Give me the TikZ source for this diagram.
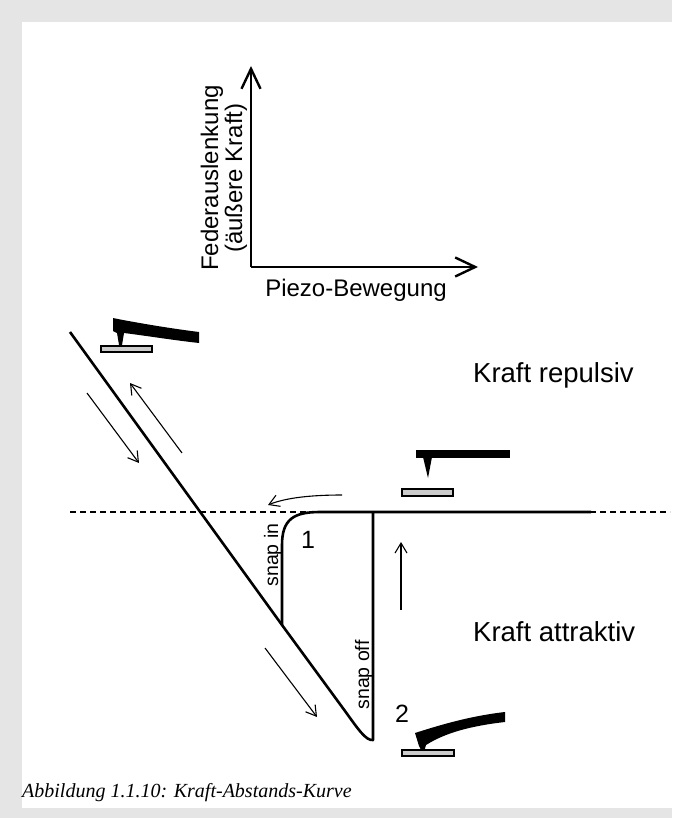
\documentclass[tikz,border=0pt]{standalone}
\usepackage{fontspec}
\setmainfont{Liberation Serif}
\newfontfamily\arial{Liberation Sans}
\usetikzlibrary{arrows.meta}

\begin{document}
\begin{tikzpicture}[x=1pt,y=-1pt,
  lbl/.style={font=\arial\fontsize{24}{24}\selectfont, inner sep=0pt},
  side/.style={font=\arial\fontsize{27.5}{28}\selectfont, inner sep=0pt, anchor=base west},
  snap/.style={font=\arial\fontsize{19.5}{20}\selectfont, inner sep=0pt, rotate=90, anchor=base},
  num/.style={font=\arial\fontsize{25}{25}\selectfont, inner sep=0pt, anchor=base},
  axis/.style={line width=2.4pt, -{Straight Barb[length=20pt,width=19pt,line width=2.4pt]}},
  curve/.style={line width=2.6pt, line join=round},
  motion/.style={line width=1.1pt, -{Straight Barb[length=10pt,width=12pt,line width=1.1pt]}},
  zero/.style={line width=1.5pt, dash pattern=on 6pt off 4pt},
  sample/.style={draw=black, line width=1.2pt, fill=gray!40}]

\useasboundingbox (0,0) rectangle (672,818);
\fill[gray!20] (0,0) rectangle (672,818);
\fill[white] (22,22) rectangle (672,808);

% axes
\coordinate (o) at (251,267);
\coordinate (ytip) at (251,66);
\coordinate (xtip) at (478,267);
\draw[axis] (o) -- (ytip);
\draw[axis] (o) -- (xtip);
\node[lbl, rotate=90, align=center] (ylab) at (224,178) {Federauslenkung\\(äußere Kraft)};
\node[lbl, anchor=base] (xlab) at (356,296) {Piezo-Bewegung};

% zero line
\coordinate (zl) at (70,512);
\coordinate (zr) at (670,512);
\draw[zero] (zl) -- (zr);

% force curve
\coordinate (top) at (70,332);
\coordinate (in) at (282,625);
\coordinate (bend) at (345,711);
\coordinate (low) at (373,740);
\coordinate (off) at (373,512);
\coordinate (flat) at (591,512);
\draw[curve] (top) -- (in) -- (bend) .. controls (358,729) and (366,741) .. (low) -- (off);
\draw[curve] (in) -- (282,545) .. controls (282,519) and (294,512) .. (320,512) -- (flat);

% direction of motion
\coordinate (a1) at (87,393);  \coordinate (b1) at (139,463);
\coordinate (a2) at (182,453); \coordinate (b2) at (130,383);
\coordinate (a3) at (342,495); \coordinate (b3) at (268,505);
\coordinate (a4) at (401,610); \coordinate (b4) at (401,542);
\coordinate (a5) at (265,648); \coordinate (b5) at (317,717);
\draw[motion] (a1) -- (b1);
\draw[motion] (a2) -- (b2);
\draw[motion] (a3) .. controls (310,495) and (285,498) .. (b3);
\draw[motion] (a4) -- (b4);
\draw[motion] (a5) -- (b5);

\node[side] (rep) at (473,382) {Kraft repulsiv};
\node[side] (att) at (473,641) {Kraft attraktiv};
\node[snap] (sin) at (278,555) {snap in};
\node[snap] (soff) at (369,675) {snap off};
\node[num] (p1) at (308,548) {1};
\node[num] (p2) at (402,722) {2};

% cantilever pushed up
\fill (113,318) -- (123,320) .. controls (150,325) and (175,329) .. (199,332)
  -- (199,343) .. controls (172,340) and (148,336) .. (124,333)
  -- (122,345) -- (119,345) -- (117,333) -- (113,331) -- cycle;
\draw[sample] (101,346) rectangle (152,352);

% cantilever at rest
\fill (416,450) rectangle (510,458);
\fill (423,457) -- (432,457) -- (428,478) -- cycle;
\draw[sample] (402,489) rectangle (453,496);

% cantilever pulled down
\fill (415,733) .. controls (440,725) and (470,716) .. (505,712)
  -- (505,722) .. controls (470,726) and (445,733) .. (426,745)
  -- (424,752) -- (422,752) -- (419,746) -- cycle;
\draw[sample] (402,750) rectangle (454,756);

\node[anchor=base west, inner sep=0pt, font=\itshape\fontsize{20}{22}\selectfont] (cap) at (22,797) {Abbildung 1.1.10: Kraft-Abstands-Kurve};
\end{tikzpicture}
\end{document}
